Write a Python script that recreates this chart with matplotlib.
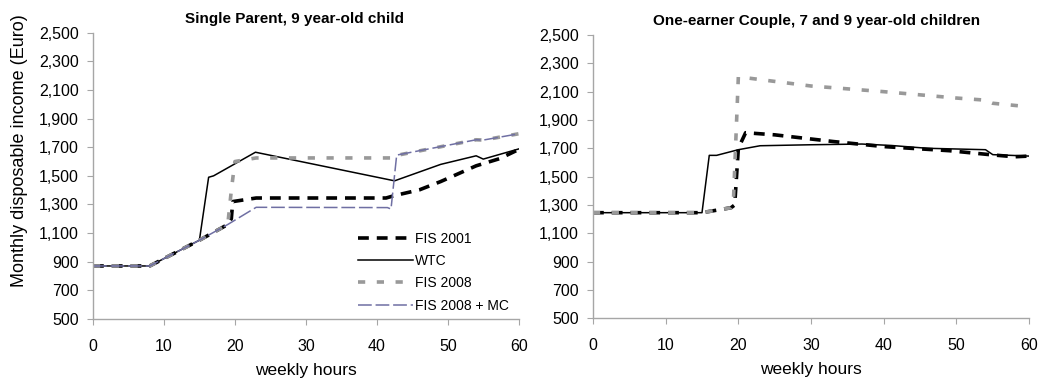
import matplotlib
matplotlib.use("Agg")
import matplotlib.pyplot as plt
from matplotlib.ticker import FuncFormatter

plt.rcParams['font.family'] = ['Liberation Sans', 'DejaVu Sans']

# Single Parent, 9 year-old child
sp_fis2001_h = [0, 8, 15, 19, 19.5, 19.7, 23, 41.3, 42.5, 46, 49, 54, 57.3, 60]
sp_fis2001_v = [870, 870, 1050, 1160, 1200, 1320, 1345, 1345, 1362, 1402, 1460, 1570, 1620, 1684]
sp_wtc_h = [0, 8, 15, 16.3, 17, 22.9, 42.5, 49, 54, 55, 60]
sp_wtc_v = [870, 870, 1050, 1490, 1500, 1665, 1465, 1580, 1640, 1617, 1688]
sp_fis2008_h = [0, 8, 15, 19, 19.5, 20, 23, 42.5, 43, 54, 55, 60]
sp_fis2008_v = [870, 870, 1050, 1160, 1400, 1600, 1625, 1625, 1645, 1752, 1750, 1794]
sp_mc_h = [0, 8, 15, 19, 23, 41.5, 42.0, 42.8, 54, 55, 60]
sp_mc_v = [870, 870, 1050, 1160, 1280, 1278, 1268, 1645, 1752, 1750, 1794]

# One-earner Couple, 7 and 9 year-old children
oc_fis2001_h = [0, 15, 19, 19.5, 20, 21, 25, 33, 40, 49, 55, 58, 60]
oc_fis2001_v = [1245, 1245, 1280, 1300, 1700, 1810, 1795, 1748, 1712, 1683, 1653, 1640, 1645]
oc_wtc_h = [0, 15, 16, 17, 20, 23, 30, 37, 41, 46, 54, 55, 60]
oc_wtc_v = [1245, 1245, 1650, 1650, 1690, 1718, 1725, 1730, 1720, 1700, 1690, 1655, 1645]
oc_fis2008_h = [0, 15, 19, 19.3, 20, 30, 40, 50, 54, 55, 60]
oc_fis2008_v = [1245, 1245, 1280, 1300, 2205, 2140, 2100, 2055, 2040, 2018, 1993]

yticks = list(range(500, 2501, 200))
xticks = list(range(0, 61, 10))

black_dash = dict(color='black', lw=2.6, dashes=(3, 2.2))
wtc_style = dict(color='black', lw=1.1)
gray_dash = dict(color='#999999', lw=2.6, dashes=(2, 3.2))
mc_style = dict(color='#6f6fa3', lw=1.1, dashes=(9, 2.5))

fig = plt.figure(figsize=(10.41, 3.81), dpi=100)
ax1 = fig.add_axes([0.0893, 0.163, 0.409, 0.751])
ax2 = fig.add_axes([0.5696, 0.165, 0.419, 0.743])

ax1.plot(sp_fis2001_h, sp_fis2001_v, label='FIS 2001', **black_dash)
ax1.plot(sp_wtc_h, sp_wtc_v, label='WTC', **wtc_style)
ax1.plot(sp_fis2008_h, sp_fis2008_v, label='FIS 2008', **gray_dash)
ax1.plot(sp_mc_h, sp_mc_v, label='FIS 2008 + MC', **mc_style)

ax2.plot(oc_fis2001_h, oc_fis2001_v, **black_dash)
ax2.plot(oc_wtc_h, oc_wtc_v, **wtc_style)
ax2.plot(oc_fis2008_h, oc_fis2008_v, **gray_dash)

ax1.set_title('Single Parent, 9 year-old child', fontsize=11, fontweight='bold',
              x=0.473, pad=7)
ax2.set_title('One-earner Couple, 7 and 9 year-old children', fontsize=11,
              fontweight='bold', x=0.513, pad=7)
ax1.set_ylabel('Monthly disposable income (Euro)', fontsize=13)
ax1.yaxis.set_label_coords(-0.152, 0.587)

for ax in (ax1, ax2):
    ax.set_xlim(0, 60)
    ax.set_ylim(500, 2500)
    ax.set_xticks(xticks)
    ax.set_yticks(yticks)
    ax.yaxis.set_major_formatter(FuncFormatter(lambda v, p: f'{int(v):,}'))
    ax.set_xlabel('weekly hours', fontsize=12.5, labelpad=6.5)
    for s in ('top', 'right'):
        ax.spines[s].set_visible(False)
    for s in ('left', 'bottom'):
        ax.spines[s].set_color('#a6a6a6')
        ax.spines[s].set_linewidth(1.0)
    ax.tick_params(direction='out', length=4, color='#a6a6a6', labelsize=11.5)
    ax.tick_params(axis='x', pad=10.5)
    ax.tick_params(axis='y', pad=6)

leg = ax1.legend(loc='lower right', bbox_to_anchor=(1.007, -0.022), frameon=False,
                 fontsize=10, handlelength=4.0, handletextpad=0.15, labelspacing=0.6)

fig.savefig('out.png', dpi=100)
